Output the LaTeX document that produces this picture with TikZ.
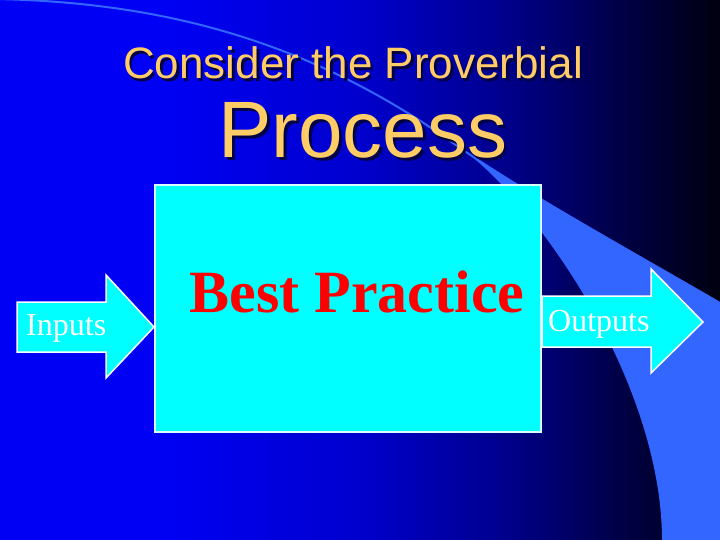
\documentclass[tikz,border=0pt]{standalone}
\usepackage{fontspec}
\setmainfont{Liberation Serif}
\setsansfont{Liberation Sans}
\usetikzlibrary{positioning}
\definecolor{titlegold}{RGB}{255,204,102}
\definecolor{titleshade}{RGB}{0,0,70}
\definecolor{swoosh}{RGB}{51,102,255}
\definecolor{boxcyan}{RGB}{0,255,255}
\definecolor{boxrim}{RGB}{215,255,255}
\definecolor{bgA}{RGB}{0,0,245}
\definecolor{bgB}{RGB}{0,0,205}
\definecolor{bgC}{RGB}{0,0,140}
\definecolor{bgD}{RGB}{0,0,75}
\definecolor{bgE}{RGB}{0,0,15}
\pgfdeclarehorizontalshading{slidebg}{100bp}{color(0bp)=(bgA); color(25bp)=(bgA);
  color(36bp)=(bgA); color(50bp)=(bgB); color(60bp)=(bgC); color(67.5bp)=(bgD);
  color(75bp)=(bgE); color(100bp)=(bgE)}
% text with a drop shadow behind it
\newcommand{\shadowtext}[1]{\makebox[0pt][l]{\hspace{2.5pt}\raisebox{-2.5pt}{\color{titleshade}#1}}#1}
\tikzset{
  blockarrow/.style={fill=boxcyan, draw=white, line width=1.5pt, line join=miter},
  arrowtext/.style={text=white, font=\fontsize{32}{36}\selectfont, inner sep=0pt, anchor=base west},
  titletext/.style={font=\sffamily\fontsize{44}{50}\selectfont, text=titlegold, inner sep=0pt, anchor=base},
  bigtext/.style={font=\sffamily\fontsize{80}{90}\selectfont, text=titlegold, inner sep=0pt, anchor=base},
}
\begin{document}
\begin{tikzpicture}[x=1pt, y=-1pt]
            \useasboundingbox (0,0) rectangle (720,540);
            \clip (0,0) rectangle (720,540);
            \shade[shading=slidebg] (0,0) rectangle (720,540);% the background
            \fill[swoosh] (450,141) .. controls (520,190) and (620,245) .. (720,303)
                -- (720,540) -- (662,540) .. controls (662,430) and (600,300) .. (520,205)
                .. controls (495,176) and (475,157) .. cycle;% the wide band
            \draw[swoosh, line width=2pt] (-5,-1) .. controls (150,2) and (300,35) .. (450,141)
                .. controls (520,190) and (620,245) .. (720,303);% the thin arc
            % Title
            \node[titletext] (title) at (353,79) {\shadowtext{Consider the Proverbial}};
            \node[bigtext] (process) at (363,158) {\shadowtext{Process}};
            % the process box
            \node[draw=boxrim, fill=boxcyan, line width=2pt, minimum width=386,
                minimum height=247] (box) at (348,308.5) {};
            \node[font=\bfseries\fontsize{60}{66}\selectfont, text=red, inner sep=0pt,
                anchor=base] (best) at (357,312) {Best Practice};
            % Inputs and outputs
            \filldraw[blockarrow] (17,302) -- (106,302) -- (106,275) -- (box.west |- 0,327)
                -- (106,378) -- (106,352) -- (17,352) -- cycle;% input arrow
            \node[arrowtext] (inputs) at (26,335) {Inputs};
            \filldraw[blockarrow] (box.east |- 0,296) -- (651,296) -- (651,269) -- (703,322)
                -- (651,373) -- (651,347) -- (box.east |- 0,347) -- cycle;% output arrow
            \node[arrowtext] (outputs) at (548,331) {Outputs};
\end{tikzpicture}
\end{document}
